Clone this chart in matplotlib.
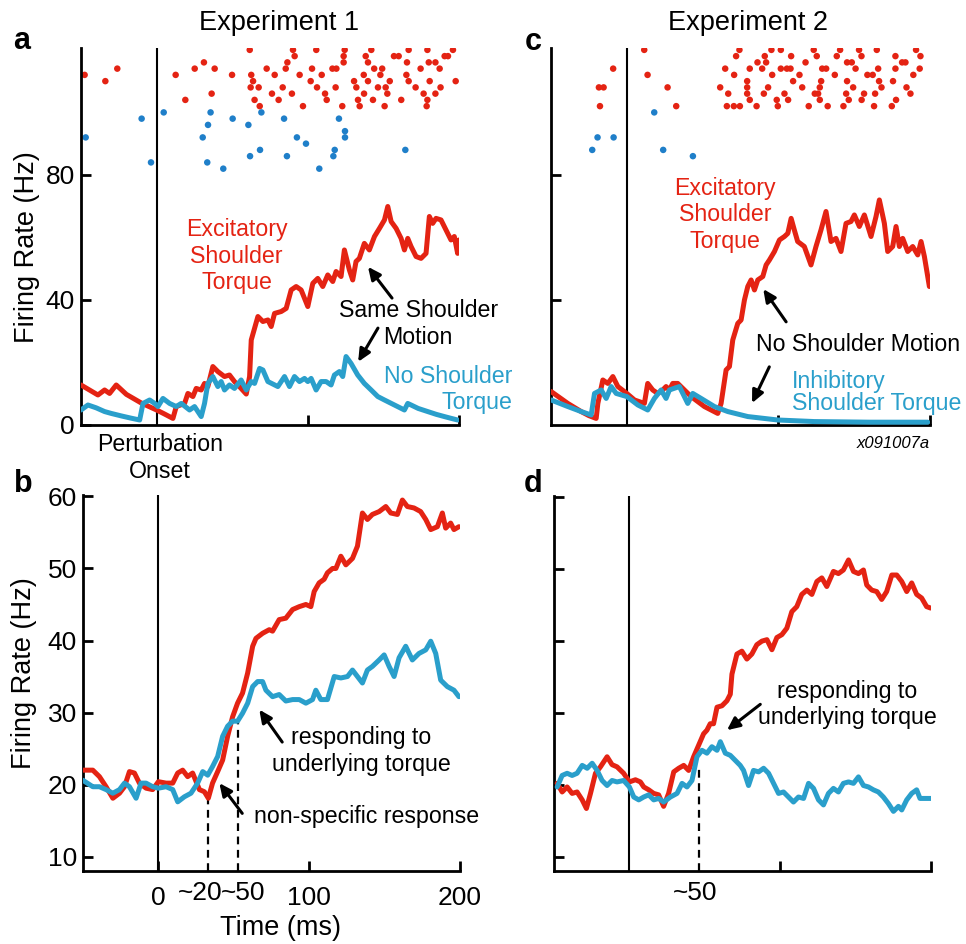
import matplotlib
matplotlib.use("Agg")
import matplotlib.pyplot as plt
import matplotlib.transforms as mtrans

plt.rcParams['font.family'] = ['Liberation Sans', 'DejaVu Sans']

RED = '#e42313'
BLUE = '#2a9fcb'
DOTBLUE = '#1f7fc9'

# ---------------- data ----------------
# Raster (trial rows, Hz-position of row -> spike times in ms)
raster_a_exc = {
    120: [61.6, 90.2, 105.6, 124.4, 142.0, 166.7, 179.1, 196.0],
    118: [91.3, 123.7, 138.3, 157.0, 160.1, 190.5, 192.7],
    116: [31.3, 86.5, 123.7, 139.8, 165.6, 180.0, 184.4],
    114: [-26.0, 25.2, 38.4, 72.8, 85.4, 102.8, 116.3, 118.9, 143.9, 149.2, 174.6, 187.2],
    112: [-47.6, 12.6, 49.9, 62.6, 78.1, 94.6, 109.2, 137.0, 148.0, 165.2],
    110: [-33.9, 63.8, 101.9, 130.6, 139.8, 154.2, 166.7, 180.6, 197.8],
    108: [62.2, 67.5, 83.4, 106.1, 118.4, 132.1, 146.4, 151.5, 171.3, 187.8],
    106: [36.4, 76.3, 89.5, 111.4, 137.2, 152.6, 176.6, 184.4],
    104: [19.0, 64.8, 80.7, 112.5, 133.2, 143.1, 161.8, 179.1],
    102: [68.2, 96.8, 122.8, 134.3, 150.8, 178.6],
}
raster_a_no = {
    100: [4.7, 35.7, 69.3],
    98: [-9.9, 50.3, 84.3, 120.6],
    96: [34.0, 60.7],
    94: [124.6],
    92: [-46.9, 30.5, 92.8, 124.6],
    90: [98.8],
    88: [68.4, 117.8, 164.5],
    86: [61.8, 86.2, 116.9],
    84: [-3.7, 33.5],
    82: [44.1, 107.6],
}
raster_c_exc = {
    120: [11.5, 74.3, 95.4, 101.6, 123.3, 140.7, 153.2, 164.9, 190.8],
    118: [72.1, 91.0, 108.4, 125.3, 138.5, 154.8, 177.2, 193.7],
    116: [86.2, 91.9, 117.9, 145.3, 148.4, 181.6, 183.8],
    114: [-9.0, 64.9, 81.1, 89.3, 101.6, 105.6, 108.0, 128.9, 131.5, 150.9, 165.8, 177.2, 193.2],
    112: [13.7, 70.8, 95.9, 113.9, 137.2, 158.7, 162.2, 189.0],
    110: [79.4, 109.7, 128.2, 145.3, 166.4, 175.6],
    108: [-18.4, -15.3, 26.9, 61.6, 79.4, 93.2, 115.7, 127.3, 149.3, 168.0, 184.5],
    106: [66.9, 79.4, 90.4, 104.0, 124.0, 126.2, 144.7, 156.5, 163.8, 187.1],
    104: [81.1, 98.9, 106.4, 127.3, 146.4, 154.9, 177.6],
    102: [-17.7, 32.6, 66.0, 70.6, 74.6, 85.6, 99.6, 120.0, 132.5, 142.9, 163.1, 174.8],
}
raster_c_inh = {
    100: [18.1],
    92: [-19.3, -8.7],
    88: [-22.8, 24.0],
    86: [43.6],
}

# Panel a: (time ms, firing rate Hz)
a_excitatory = [(-50, 12.8), (-38.8, 9.6), (-34.4, 11.2), (-31.1, 10.1), (-26.7, 12.8), (-20, 9.8),
    (-10, 7.0), (0, 4.8), (5.3, 3.5), (10.8, 2.1), (13.0, 5.9), (18.5, 6.9), (20.7, 10.1), (24.0, 9.1),
    (26.2, 11.7), (29.5, 11.2), (31.7, 13.3), (33.9, 12.3), (37.2, 18.7), (40.5, 17.1), (44.9, 15.5),
    (48.2, 16.0), (51.5, 13.9), (55.9, 11.7), (59.3, 9.9), (61.5, 15.5), (62.6, 27.2), (67.0, 34.7),
    (70.3, 33.1), (73.6, 33.6), (75.8, 31.5), (78.0, 35.7), (82.4, 36.3), (85.7, 37.3), (89.0, 43.2),
    (92.3, 44.3), (95.6, 43.2), (100.0, 37.9), (103.3, 45.3), (106.6, 46.9), (109.9, 44.3), (113.2, 48.0),
    (116.5, 45.9), (118.7, 49.1), (122.0, 47.5), (124.2, 56.0), (127.5, 49.6), (129.7, 46.4), (131.9, 52.3),
    (134.1, 53.3), (137.4, 58.1), (140.7, 56.0), (144.1, 60.3), (147.4, 62.9), (150.7, 65.6), (152.9, 69.9),
    (155.1, 65.1), (158.4, 62.9), (161.7, 59.7), (163.9, 56.0), (166.1, 59.7), (168.3, 57.1), (171.6, 53.9),
    (174.9, 53.3), (178.2, 54.9), (180.4, 66.7), (182.6, 64.5), (184.8, 66.1), (188.1, 65.6), (191.4, 62.4),
    (194.7, 59.2), (196.9, 60.3), (199.1, 54.9), (200, 59.2)]
a_no_torque = [(-50, 4.8), (-45.4, 6.4), (-40, 5.5), (-34.4, 4.3), (-30, 3.7), (-23.3, 2.9), (-17, 2.2),
    (-11.2, 1.6), (-9.0, 6.9), (-4.6, 8.0), (-1.3, 6.9), (0.9, 5.9), (4.2, 8.5), (8.6, 6.9), (13.0, 5.9),
    (16.3, 6.9), (21.8, 4.8), (25.1, 5.9), (29.5, 2.7), (31.7, 6.9), (33.9, 13.3), (37.2, 15.5), (40.5, 12.3),
    (42.7, 13.9), (44.9, 11.2), (48.2, 12.8), (51.5, 11.7), (55.9, 14.4), (59.3, 11.2), (62.6, 13.9),
    (64.8, 13.3), (68.1, 18.1), (70.3, 17.6), (73.6, 13.9), (80.2, 12.3), (84.6, 15.5), (87.9, 12.3),
    (91.2, 15.5), (94.5, 13.9), (97.8, 14.9), (100.0, 13.9), (102.2, 14.9), (105.5, 11.2), (108.8, 13.9),
    (112.1, 13.9), (115.4, 12.8), (117.6, 16.0), (120.9, 17.1), (123.1, 15.5), (125.3, 21.9), (128.6, 19.7),
    (133, 16.0), (137.4, 13.3), (141.9, 11.2), (146.3, 9.1), (150.7, 8.0), (157.3, 6.4), (163.9, 4.8),
    (166.1, 6.9), (168.3, 6.4), (173, 5.3), (179.3, 4.3), (185, 3.4), (190.3, 2.7), (195, 2.1), (199.1, 1.6)]

# Panel c
c_excitatory = [(-49.9, 10.7), (-38.9, 6.9), (-30.1, 4.3), (-25, 3.0), (-20.2, 2.1), (-19.1, 6.9),
    (-15.8, 14.4), (-12.5, 13.3), (-9.2, 15.5), (-5.9, 12.3), (0, 10.1), (5.1, 8.0), (11.6, 6.9),
    (13.8, 13.3), (17.1, 11.2), (20.4, 10.1), (23.7, 11.2), (25.9, 12.3), (28.1, 11.2), (30.3, 13.3),
    (33.6, 13.3), (42.4, 9.1), (51.2, 5.9), (60.0, 3.7), (62.2, 6.9), (65.5, 17.6), (67.7, 18.7),
    (69.9, 27.2), (73.2, 32.5), (75.4, 33.6), (77.6, 40.0), (79.8, 44.3), (82.0, 46.4), (84.2, 43.2),
    (86.4, 46.4), (89.7, 47.5), (91.9, 51.2), (94.1, 52.8), (97.4, 55.5), (100.7, 59.2), (104.0, 60.3),
    (106.2, 61.3), (108.4, 66.1), (110.5, 62.4), (112.7, 58.7), (117.1, 57.1), (121.5, 51.2), (124.8, 57.1),
    (128.1, 62.4), (131.4, 68.3), (134.7, 58.7), (138.0, 59.7), (141.3, 55.5), (144.6, 64.5), (147.9, 65.1),
    (150.1, 67.2), (153.4, 63.5), (156.7, 67.2), (161.1, 60.3), (164.4, 66.7), (166.6, 72.0), (169.9, 64.5),
    (172.1, 55.5), (175.4, 57.1), (177.6, 63.5), (179.8, 57.1), (182.0, 59.7), (185.3, 55.5), (188.6, 57.1),
    (191.9, 54.4), (194.1, 58.7), (196.3, 53.9), (199.6, 44.3)]
c_inhibitory = [(-49.9, 8.0), (-38.9, 5.9), (-30.1, 4.3), (-23.5, 3.2), (-21.3, 10.1), (-16.9, 11.2),
    (-13.6, 8.5), (-10.3, 12.3), (-7.0, 10.1), (0, 9.1), (7.3, 6.4), (13.8, 4.8), (18.2, 8.5), (22.6, 11.2),
    (25.9, 8.5), (28.1, 11.2), (34.7, 12.3), (40.2, 6.9), (43.5, 10.1), (49.0, 8.5), (57.8, 5.9),
    (66.6, 4.3), (79.8, 2.7), (99.6, 1.6), (123.7, 1.1), (160, 0.9), (198.5, 0.9)]

# Panel b
b_excitatory = [(-50.1, 22.0), (-43.5, 22.0), (-39.1, 21.1), (-34.7, 19.7), (-30.2, 18.1), (-25.8, 18.8),
    (-22.5, 19.7), (-19.2, 21.8), (-15.9, 21.6), (-12.6, 20.2), (-8.2, 19.5), (-3.8, 19.3), (0, 20.4),
    (5.1, 20.2), (9.5, 20.2), (12.8, 21.6), (16.1, 22.0), (19.4, 21.1), (22.7, 21.6), (27.2, 19.3),
    (30.5, 19.0), (33.1, 18.1), (35.9, 20.2), (39.3, 21.8), (42.6, 23.4), (45.9, 26.7), (49.2, 29.4),
    (52.5, 31.3), (55.8, 32.7), (59.2, 35.5), (62.5, 39.2), (64.7, 40.3), (69.1, 41.0), (73.5, 41.5),
    (75.7, 41.3), (80.1, 42.9), (84.5, 43.1), (89.0, 44.3), (93.4, 44.7), (97.8, 45.0), (101.1, 44.7),
    (103.3, 46.8), (106.6, 48.0), (109.9, 48.5), (112.1, 49.4), (115.5, 50.0), (117.7, 50.0), (121.0, 51.7),
    (124.3, 50.5), (128.7, 51.4), (132.0, 53.1), (135.3, 57.7), (138.6, 56.8), (141.9, 57.5), (146.4, 57.9),
    (150.8, 58.6), (154.1, 57.7), (158.5, 57.5), (161.8, 59.5), (165.1, 58.6), (169.5, 58.4), (173.9, 57.9),
    (177.3, 56.8), (180.6, 55.4), (185.0, 55.8), (188.3, 57.7), (190.5, 55.6), (193.8, 56.3), (196.0, 55.4),
    (199.3, 55.8)]
b_no_torque = [(-50.1, 20.6), (-43.5, 19.7), (-39.1, 19.7), (-34.7, 19.3), (-30.2, 18.8), (-25.8, 19.3),
    (-22.5, 20.2), (-19.2, 19.7), (-14.8, 18.1), (-11.5, 20.2), (-8.2, 20.2), (-3.8, 19.7), (0, 19.5),
    (5.1, 19.7), (9.5, 19.3), (12.8, 17.6), (17.2, 18.3), (21.6, 18.8), (26.0, 20.2), (29.4, 21.8),
    (32.7, 21.3), (35.9, 22.5), (39.3, 23.9), (42.6, 26.7), (45.9, 28.1), (49.2, 28.8), (52.5, 28.8),
    (55.8, 29.9), (59.2, 31.3), (62.5, 33.6), (65.8, 34.3), (69.1, 34.3), (71.3, 33.1), (75.7, 32.2),
    (80.1, 32.5), (84.5, 31.6), (89.0, 31.8), (93.4, 31.8), (97.8, 31.3), (102.2, 31.8), (104.4, 33.1),
    (107.7, 31.8), (112.1, 31.8), (116.6, 35.0), (121.0, 34.8), (125.4, 35.0), (128.7, 35.9), (132.0, 35.0),
    (135.3, 34.1), (138.6, 35.9), (141.9, 36.4), (146.4, 37.3), (149.7, 38.0), (153.0, 36.4), (156.3, 35.0),
    (159.6, 37.6), (164.0, 39.2), (168.4, 37.3), (172.8, 38.2), (177.3, 38.7), (180.6, 39.9), (183.9, 38.2),
    (187.2, 34.5), (191.6, 33.6), (196.0, 33.1), (199.3, 32.2)]

# Panel d
d_excitatory = [(-47.9, 20.2), (-44.6, 19.0), (-41.3, 19.7), (-38.0, 18.8), (-34.7, 19.0), (-31.3, 17.9),
    (-28.5, 16.7), (-25.8, 18.8), (-22.5, 21.6), (-19.2, 22.5), (-14.8, 23.9), (-11.5, 22.8), (-8.2, 22.5),
    (-3.8, 21.6), (0, 20.4), (4.0, 20.7), (7.3, 20.4), (9.5, 19.7), (12.8, 19.3), (16.1, 18.8), (19.4, 18.6),
    (22.7, 17.0), (26.0, 18.8), (29.4, 21.8), (32.7, 22.3), (36.0, 22.7), (39.3, 22.0), (42.6, 23.9),
    (45.9, 25.5), (49.2, 27.1), (51.4, 27.6), (53.6, 28.5), (55.8, 28.5), (58.1, 30.8), (61.4, 31.0),
    (64.7, 31.7), (66.9, 32.6), (68.0, 35.4), (71.3, 38.2), (74.6, 38.6), (77.9, 37.5), (81.2, 38.2),
    (84.5, 39.5), (87.9, 40.0), (91.2, 40.2), (94.5, 38.8), (97.8, 40.5), (101.1, 40.9), (104.4, 41.8),
    (107.7, 44.1), (111.0, 44.8), (114.3, 46.5), (117.7, 47.1), (121.0, 46.5), (124.3, 48.3), (127.6, 48.8),
    (130.9, 47.6), (135.3, 49.7), (138.6, 49.4), (141.9, 49.9), (145.3, 51.3), (148.6, 49.7), (151.9, 49.4),
    (155.2, 49.9), (157.4, 47.8), (160.7, 47.1), (164.0, 46.9), (167.3, 45.8), (170.6, 46.9), (174.0, 49.2),
    (177.3, 49.2), (180.6, 48.3), (183.9, 46.9), (187.2, 48.1), (190.5, 46.5), (193.8, 46.0), (197.1, 44.8),
    (199.8, 44.6)]
d_inhibitory = [(-47.9, 19.7), (-44.6, 21.3), (-41.3, 21.6), (-38.0, 21.3), (-34.7, 21.6), (-31.3, 22.7),
    (-28.0, 22.3), (-24.7, 23.0), (-21.4, 22.0), (-18.1, 20.6), (-14.8, 19.9), (-11.5, 20.6), (-8.2, 20.4),
    (-3.8, 20.6), (0, 19.7), (2.9, 18.3), (6.2, 17.9), (9.5, 18.3), (12.8, 18.6), (16.1, 17.9), (19.4, 18.1),
    (22.7, 17.6), (27.2, 18.3), (31.6, 18.8), (34.9, 20.2), (38.2, 19.7), (41.5, 20.6), (44.8, 23.9),
    (48.1, 24.8), (51.4, 24.4), (54.7, 25.3), (58.1, 24.8), (60.3, 26.0), (63.6, 24.4), (66.9, 24.1),
    (70.2, 23.4), (73.5, 22.7), (75.7, 22.0), (79.0, 19.9), (82.3, 22.0), (85.7, 21.8), (89.0, 22.3),
    (92.3, 21.6), (95.6, 20.2), (98.9, 18.8), (102.2, 19.0), (105.5, 18.3), (108.8, 17.6), (112.1, 18.3),
    (115.5, 18.1), (118.8, 20.2), (122.1, 19.5), (125.4, 17.9), (128.7, 17.2), (132.0, 18.8), (135.3, 19.5),
    (138.6, 19.0), (141.9, 20.2), (145.3, 20.4), (148.6, 20.2), (151.9, 21.1), (155.2, 19.9), (158.5, 19.7),
    (161.8, 19.3), (165.1, 19.0), (168.4, 18.3), (171.7, 17.4), (175.1, 16.3), (178.4, 17.0), (180.6, 16.5),
    (183.9, 17.9), (187.2, 18.8), (190.5, 19.3), (192.7, 18.1), (197.1, 18.1), (199.8, 18.1)]

b_dashed_times = [32.7, 53.0]
b_dashed_tops = [18.1, 29.0]
d_dashed_times = [45.9]
d_dashed_tops = [22.7]

# ---------------- figure ----------------
W, H = 966, 944
fig = plt.figure(figsize=(W / 100, H / 100), dpi=100)


def px_axes(l, r, top, bottom):
    return fig.add_axes([l / W, 1 - bottom / H, (r - l) / W, (bottom - top) / H])


ax_a = px_axes(81, 459, 48, 425)
ax_c = px_axes(551, 930, 48, 425)
ax_b = px_axes(83, 460, 495, 871)
ax_d = px_axes(554, 931, 496, 871)

TICKFS = 19
ANNFS = 16.7


def style(ax):
    for s in ['top', 'right']:
        ax.spines[s].set_visible(False)
    for s in ['left', 'bottom']:
        ax.spines[s].set_linewidth(2.0)
        ax.spines[s].set_capstyle('projecting')
    ax.tick_params(direction='in', length=7.5, width=2.0, labelsize=TICKFS, pad=4.5)
    ax.set_xlim(-50, 200)
    ax.axvline(0, color='black', lw=1.5, zorder=1)


def line(ax, pts, color):
    t = [p[0] for p in pts]
    v = [p[1] for p in pts]
    ax.plot(t, v, color=color, lw=3.6, solid_joinstyle='round', solid_capstyle='round', zorder=3)


def raster(ax, rows, color):
    for y, times in rows.items():
        ax.scatter(times, [y] * len(times), s=22, color=color, edgecolors='none', zorder=2)


for ax in (ax_a, ax_c, ax_b, ax_d):
    style(ax)

# Panel a
ax_a.set_ylim(0, 120.6)
ax_a.set_yticks([0, 40, 80])
ax_a.set_xticks([100, 200])
ax_a.set_xticklabels([])
raster(ax_a, raster_a_exc, RED)
raster(ax_a, raster_a_no, DOTBLUE)
line(ax_a, a_excitatory, RED)
line(ax_a, a_no_torque, BLUE)

# Panel c
ax_c.set_ylim(0, 120.6)
ax_c.set_yticks([40, 80])
ax_c.set_yticklabels([])
ax_c.set_xticks([100, 200])
ax_c.set_xticklabels([])
raster(ax_c, raster_c_exc, RED)
raster(ax_c, raster_c_inh, DOTBLUE)
line(ax_c, c_excitatory, RED)
line(ax_c, c_inhibitory, BLUE)

# Panel b
ax_b.set_ylim(8, 60.2)
ax_b.set_yticks([10, 20, 30, 40, 50, 60])
ax_b.set_xticks([0, 100, 200])
ax_b.tick_params(axis='x', pad=11)
line(ax_b, b_excitatory, RED)
line(ax_b, b_no_torque, BLUE)
for t, top in zip(b_dashed_times, b_dashed_tops):
    ax_b.plot([t, t], [8, top], color='black', lw=1.6, dashes=(3.5, 2.5), zorder=1)

# Panel d
ax_d.set_ylim(8, 60.2)
ax_d.set_yticks([10, 20, 30, 40, 50, 60])
ax_d.set_yticklabels([])
ax_d.set_xticks([100, 200])
ax_d.set_xticklabels([])
line(ax_d, d_excitatory, RED)
line(ax_d, d_inhibitory, BLUE)
for t, top in zip(d_dashed_times, d_dashed_tops):
    ax_d.plot([t, t], [8, top], color='black', lw=1.6, dashes=(3.5, 2.5), zorder=1)

# ---------------- text ----------------
def arrow(ax, head, tail):
    ax.annotate('', xy=head, xytext=tail,
                arrowprops=dict(arrowstyle='-|>,head_length=0.75,head_width=0.35',
                                color='black', lw=2.2, shrinkA=0, shrinkB=0))

ax_a.text(53, 54, 'Excitatory\nShoulder\nTorque', color=RED, fontsize=ANNFS,
          ha='center', va='center', multialignment='center')
ax_a.text(173, 32.3, 'Same Shoulder\nMotion', color='black', fontsize=ANNFS,
          ha='center', va='center', multialignment='center')
ax_a.text(235, 11.4, 'No Shoulder\nTorque', color=BLUE, fontsize=ANNFS,
          ha='right', va='center', multialignment='right', clip_on=False)
arrow(ax_a, (139.8, 50.6), (155.7, 40.6))
arrow(ax_a, (133.3, 20.2), (146.4, 31.0))

ax_c.text(64.7, 67.2, 'Excitatory\nShoulder\nTorque', color=RED, fontsize=ANNFS,
          ha='center', va='center', multialignment='center')
ax_c.text(152.6, 25.6, 'No Shoulder Motion', color='black', fontsize=ANNFS,
          ha='center', va='center')
ax_c.text(109, 10.5, 'Inhibitory\nShoulder Torque', color=BLUE, fontsize=ANNFS,
          ha='left', va='center', multialignment='left', linespacing=0.95)
arrow(ax_c, (90.0, 43.5), (105.1, 33.0))
arrow(ax_c, (82.6, 7.0), (94.0, 18.6))

ax_b.text(134.4, 24.7, 'responding to\nunderlying torque', color='black', fontsize=ANNFS,
          ha='center', va='center', multialignment='center')
ax_b.text(63.6, 15.5, 'non-specific response', color='black', fontsize=ANNFS,
          ha='left', va='center', clip_on=False)
arrow(ax_b, (66.9, 30.4), (82.1, 25.9))
arrow(ax_b, (40.4, 20.2), (55.6, 16.0))

ax_d.text(144.4, 31.2, 'responding to\nunderlying torque', color='black', fontsize=ANNFS,
          ha='center', va='center', multialignment='center')
arrow(ax_d, (64.7, 27.6), (86.8, 31.2))

tb = mtrans.blended_transform_factory(ax_b.transData, fig.transFigure)
td = mtrans.blended_transform_factory(ax_d.transData, fig.transFigure)
ax_b.text(27.7, 1 - 893 / H, '~20', transform=tb, fontsize=TICKFS, ha='center', va='center')
ax_b.text(56.3, 1 - 893 / H, '~50', transform=tb, fontsize=TICKFS, ha='center', va='center')
ax_d.text(43.3, 1 - 893 / H, '~50', transform=td, fontsize=TICKFS, ha='center', va='center')


def ftext(x, y, s, **kw):
    fig.text(x / W, 1 - y / H, s, **kw)

ftext(279, 23, 'Experiment 1', fontsize=19.5, ha='center', va='center')
ftext(748, 23, 'Experiment 2', fontsize=19.5, ha='center', va='center')
ftext(22, 41, 'a', fontsize=22, fontweight='bold', ha='center', va='center')
ftext(533, 42, 'c', fontsize=22, fontweight='bold', ha='center', va='center')
ftext(23, 484, 'b', fontsize=22, fontweight='bold', ha='center', va='center')
ftext(533, 484, 'd', fontsize=22, fontweight='bold', ha='center', va='center')
ftext(27, 247, 'Firing Rate (Hz)', fontsize=19.5, rotation=90, ha='center', va='center')
ftext(24, 673, 'Firing Rate (Hz)', fontsize=19.5, rotation=90, ha='center', va='center')
ftext(281, 928, 'Time (ms)', fontsize=19.5, ha='center', va='center')
ftext(160, 458, 'Perturbation\nOnset', fontsize=ANNFS, ha='center', va='center', multialignment='center')
ftext(930, 443, 'x091007a', fontsize=12, style='italic', ha='right', va='center')

fig.savefig('out.png', dpi=100)
